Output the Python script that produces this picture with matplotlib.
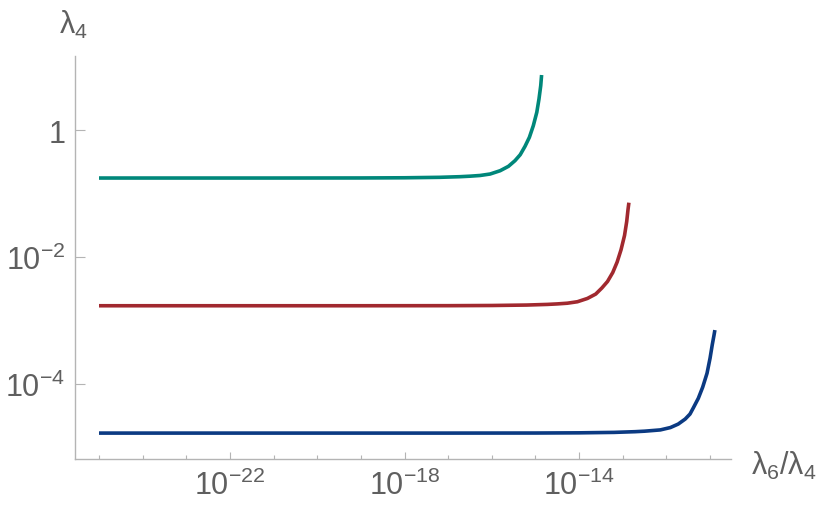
import numpy as np
import matplotlib.pyplot as plt
from matplotlib.ticker import FixedLocator, FuncFormatter

plt.rcParams['font.family'] = ['Liberation Sans', 'DejaVu Sans']
plt.rcParams['mathtext.fontset'] = 'custom'
plt.rcParams['mathtext.rm'] = 'Liberation Sans'
plt.rcParams['mathtext.it'] = 'Liberation Sans:italic'

# ---------------------------------------------------------------------------------------
# values, as log10(lambda6/lambda4) and log10(lambda4)
teal_logx = [-25.0, -21.0, -19.0, -18.0, -17.2, -16.73, -16.50, -16.27, -16.04, -15.81,
             -15.62, -15.47, -15.35, -15.24, -15.14, -15.05, -14.97, -14.92, -14.88, -14.86]
teal_logy = [-0.756, -0.756, -0.755, -0.752, -0.745, -0.735, -0.727, -0.716, -0.693, -0.641,
             -0.572, -0.483, -0.389, -0.257, -0.115, 0.068, 0.279, 0.488, 0.698, 0.866]

red_logx = [-25.0, -19.0, -17.0, -16.0, -15.2, -14.73, -14.50, -14.27, -14.04, -13.81,
            -13.62, -13.48, -13.35, -13.23, -13.13, -13.04, -12.96, -12.91, -12.88, -12.86]
red_logy = [-2.767, -2.767, -2.766, -2.763, -2.756, -2.746, -2.738, -2.727, -2.704, -2.652,
            -2.583, -2.488, -2.385, -2.244, -2.08, -1.885, -1.66, -1.44, -1.25, -1.144]

blue_logx = [-25.0, -17.0, -15.0, -14.0, -13.2, -12.72, -12.50, -12.14, -11.91, -11.73,
             -11.57, -11.46, -11.38, -11.27, -11.17, -11.07, -11.00, -10.95, -10.91, -10.89]
blue_logy = [-4.772, -4.772, -4.771, -4.768, -4.761, -4.750, -4.742, -4.722, -4.685, -4.630,
             -4.551, -4.472, -4.370, -4.225, -4.050, -3.830, -3.590, -3.380, -3.230, -3.150]

x_labeled = [-22, -18, -14]
y_labeled = [0, -2, -4]

colors = ["#00877a", "#a1292f", "#0b3a82"]
axis_gray = "#b4b4b4"
text_gray = "#5f5f5f"

# ---------------------------------------------------------------------------------------
fig = plt.figure(figsize=(8.3, 5.1), dpi=100)
ax = fig.add_axes([75 / 830, 50 / 510, (730.6 - 75) / 830, (460 - 56.7) / 510])

for lx, ly, c in zip([teal_logx, red_logx, blue_logx], [teal_logy, red_logy, blue_logy], colors):
    ax.plot(10.0 ** np.array(lx), 10.0 ** np.array(ly), color=c, lw=2.6,
            solid_capstyle='butt', solid_joinstyle='round')

ax.set_xscale('log')
ax.set_yscale('log')
ax.set_xlim(10 ** -25.55, 10 ** -10.53)
ax.set_ylim(10 ** -5.18, 10 ** 1.17)

for s in ['top', 'right']:
    ax.spines[s].set_visible(False)
for s in ['left', 'bottom']:
    ax.spines[s].set_color(axis_gray)
    ax.spines[s].set_linewidth(1.0)

ax.xaxis.set_major_locator(FixedLocator([10.0 ** e for e in x_labeled]))
ax.xaxis.set_minor_locator(FixedLocator([10.0 ** e for e in range(-25, -10) if e not in x_labeled]))
ax.yaxis.set_major_locator(FixedLocator([10.0 ** e for e in y_labeled]))
ax.yaxis.set_minor_locator(FixedLocator([]))


def fmt(v, pos):
    e = int(round(np.log10(v)))
    if e == 0:
        return "1"
    return r"$10^{%d}$" % e


ax.xaxis.set_major_formatter(FuncFormatter(fmt))
ax.yaxis.set_major_formatter(FuncFormatter(fmt))
ax.xaxis.set_minor_formatter(FuncFormatter(lambda v, p: ""))

ax.tick_params(axis='x', which='major', direction='in', length=5, width=0.8, color=axis_gray,
               labelsize=22, labelcolor=text_gray, pad=8)
ax.tick_params(axis='x', which='minor', direction='in', length=3, width=0.8, color=axis_gray)
ax.tick_params(axis='y', which='major', direction='in', length=7, width=0.8, color=axis_gray,
               labelsize=22, labelcolor=text_gray, pad=7)

fig.text(73 / 830, 1 - 25 / 510, "λ$_4$", fontsize=22, color=text_gray, ha='center', va='center')
fig.text(751 / 830, 1 - 466 / 510, "λ$_6$/λ$_4$", fontsize=22, color=text_gray, ha='left', va='center')

fig.savefig("out.png", dpi=100)
